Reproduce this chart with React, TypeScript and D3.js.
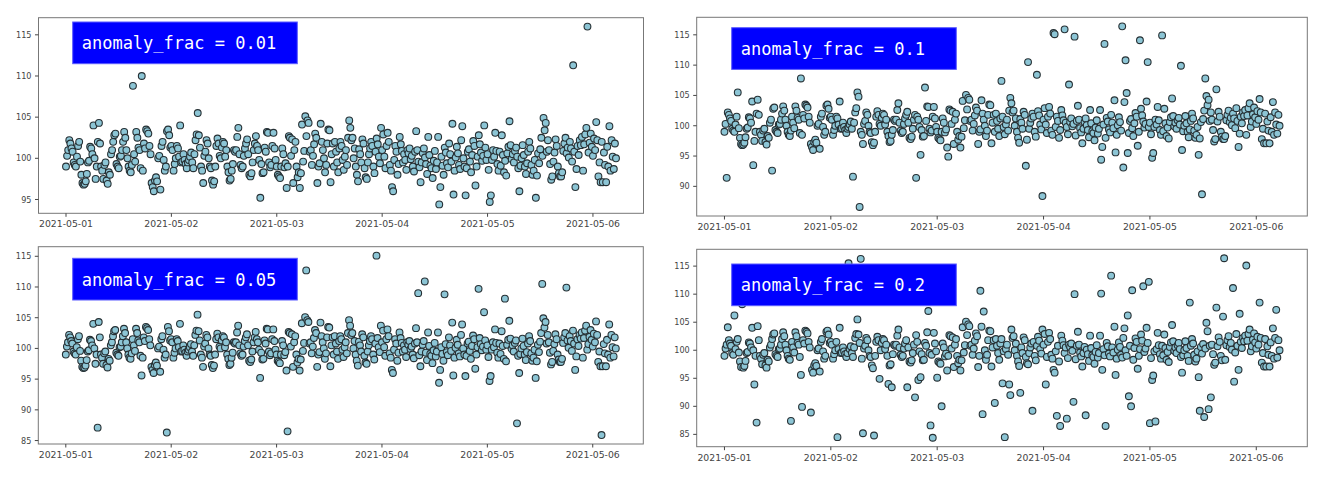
import React, { useEffect } from "react";
import * as d3 from "d3";

// base signal, 15-minute steps from 2021-05-01 00:00 (estimated from the plots)
const baseValues = [
  99.0, 100.3, 101.0, 102.2, 101.8, 101.2, 100.8, 99.5, 99.2, 99.0, 100.2, 101.5, 102.0, 99.6, 98.0, 97.0, 96.8, 96.9, 97.2, 98.1, 99.5, 99.7, 101.4, 101.2,
  100.5, 104.0, 100.0, 97.5, 99.0, 102.0, 104.3, 101.8, 99.0, 98.5, 97.5, 99.2, 99.5, 97.3, 96.9, 98.3, 98.0, 100.5, 101.0, 102.0, 102.8, 103.0, 99.3, 99.0,
  98.8, 100.2, 100.3, 101.0, 102.0, 103.2, 102.5, 101.0, 100.0, 99.0, 98.5, 98.3, 99.2, 101.5, 100.5, 99.6, 103.2, 102.5, 101.3, 101.0, 98.8, 95.6, 98.5, 101.8,
  101.2, 103.5, 103.3, 103.0, 101.5, 100.5, 97.0, 96.5, 96.0, 97.3, 97.7, 97.2, 100.0, 100.3, 96.2, 101.5, 102.0, 99.8, 98.5, 99.0, 103.3, 103.5, 102.8, 101.3,
  101.5, 101.0, 98.5, 99.3, 100.0, 101.5, 101.2, 100.2, 104.0, 99.5, 99.6, 100.5, 99.8, 99.3, 98.8, 99.5, 99.8, 100.2, 100.7, 99.5, 98.8, 100.5, 102.2, 102.9,
  105.5, 102.8, 101.3, 99.0, 98.5, 97.0, 100.3, 100.8, 102.2, 101.8, 100.0, 99.0, 98.8, 97.3, 96.8, 97.2, 99.0, 101.5, 102.4, 101.8, 100.3, 100.0, 101.3, 102.0,
  101.8, 100.2, 101.0, 99.0, 98.3, 97.3, 97.5, 98.5, 99.3, 101.0, 100.8, 101.0, 102.6, 103.7, 100.5, 99.2, 98.8, 99.0, 100.3, 101.2, 101.8, 102.3, 100.5, 98.0,
  97.8, 98.2, 99.5, 101.0, 101.8, 102.7, 101.5, 101.0, 99.8, 95.2, 99.3, 98.2, 98.3, 101.3, 100.8, 103.2, 103.1, 99.5, 98.9, 99.2, 101.5, 103.1, 101.2, 99.8,
  99.0, 98.0, 97.8, 97.6, 99.0, 101.2, 100.5, 98.9, 99.4, 96.4, 99.0, 102.7, 102.5, 100.3, 102.3, 97.0, 101.0, 102.0, 99.0, 97.7, 98.3, 96.4, 98.2, 104.1,
  99.6, 100.9, 105.1, 102.7, 104.6, 104.3, 100.8, 101.0, 99.2, 100.3, 101.7, 103.0, 102.5, 97.0, 99.0, 99.4, 104.2, 102.0, 101.0, 100.0, 98.3, 99.2, 101.8, 103.5,
  103.4, 97.1, 100.5, 101.8, 99.0, 102.0, 100.8, 99.5, 98.3, 101.2, 102.0, 101.5, 99.8, 98.6, 100.2, 101.0, 99.2, 102.5, 104.6, 103.7, 102.2, 102.5, 100.0, 101.2,
  99.0, 98.0, 97.2, 101.1, 100.5, 99.5, 102.3, 101.8, 98.8, 97.7, 97.5, 99.5, 100.5, 101.2, 102.0, 101.5, 99.0, 98.2, 100.8, 102.4, 101.7, 100.2, 99.4, 103.7,
  101.0, 102.9, 100.2, 98.8, 101.5, 103.1, 102.0, 99.2, 98.5, 96.5, 96.0, 99.8, 101.5, 100.8, 98.0, 99.3, 102.6, 101.7, 100.9, 99.5, 100.5, 99.8, 98.6, 101.0,
  100.6, 101.2, 99.9, 100.3, 99.0, 98.4, 100.8, 103.3, 101.0, 99.6, 98.9, 97.1, 99.5, 100.6, 101.2, 100.1, 99.3, 98.1, 102.6, 100.4, 99.1, 98.8, 97.6, 99.7,
  100.9, 98.7, 99.5, 102.6, 94.4, 96.5, 100.2, 99.1, 98.0, 101.3, 100.7, 99.4, 98.9, 101.8, 100.5, 99.6, 104.2, 95.6, 98.5, 100.1, 101.4, 100.6, 99.2, 98.7,
  102.2, 103.9, 100.0, 99.0, 95.5, 98.8, 100.8, 101.1, 99.6, 98.3, 100.4, 102.1, 101.5, 96.7, 99.0, 100.2, 102.8, 101.7, 100.7, 99.7, 100.3, 104.0, 101.3, 99.8,
  100.5, 98.6, 94.7, 95.5, 99.8, 101.0, 100.2, 103.1, 100.9, 99.3, 98.5, 100.8, 99.1, 102.8, 100.4, 98.3, 99.7, 97.9, 100.6, 101.4, 104.5, 101.6, 99.9, 100.5,
  99.5, 100.9, 101.3, 100.2, 98.8, 96.0, 99.1, 100.0, 101.6, 100.4, 99.0, 98.1, 99.4, 100.8, 102.0, 101.2, 99.2, 98.0, 98.5, 99.8, 95.2, 97.9, 100.6, 99.4,
  101.1, 102.5, 100.3, 104.9, 103.4, 104.3, 100.8, 102.2, 101.0, 99.3, 97.4, 97.8, 99.6, 100.7, 102.3, 101.5, 99.0, 98.2, 97.8, 97.8, 98.3, 100.9, 101.8, 102.5,
  100.6, 101.3, 100.1, 102.0, 101.2, 99.6, 102.9, 100.8, 96.5, 98.7, 101.5, 100.4, 102.2, 101.6, 102.6, 98.5, 101.7, 102.9, 103.7, 99.8, 100.7, 101.9, 103.0, 101.4,
  100.3, 102.4, 101.0, 104.4, 102.2, 97.8, 99.5, 97.1, 102.0, 97.1, 100.7, 99.2, 97.1, 101.4, 99.0, 103.9, 98.5, 102.2, 100.2, 98.7, 101.8, 100.0,
];

// anomalies: [index, value]
const anomalies001 = [[61, 108.8], [69, 110.0], [462, 111.3], [475, 116.0]];
const anomalies01 = [
  [2, 91.4], [12, 105.5], [26, 93.5], [43, 92.6], [69, 107.8], [116, 91.6], [121, 104.8], [122, 86.6],
  [173, 91.4], [181, 106.3], [202, 94.9], [250, 107.4], [272, 93.4], [274, 110.5], [282, 108.4], [287, 88.4],
  [297, 115.3], [298, 115.1], [307, 115.9], [311, 106.8], [316, 114.7], [343, 113.5], [359, 116.4], [360, 93.1],
  [362, 110.8], [363, 105.4], [375, 114.1], [382, 110.5], [395, 114.9], [412, 109.9], [431, 88.7], [434, 107.8], [444, 106.0],
];
const anomalies005 = [
  [29, 87.1], [92, 86.3], [202, 86.5], [219, 112.7], [283, 115.1], [321, 109.0], [327, 110.9], [345, 108.8],
  [376, 109.7], [381, 105.9], [400, 108.1], [411, 87.8], [434, 110.5], [456, 109.9], [488, 85.9],
];
const anomalies02 = [
  [3, 104.1], [9, 106.2], [16, 108.2], [27, 93.9], [29, 87.1], [60, 87.4], [70, 89.9], [78, 88.9], [102, 84.5],
  [112, 115.5], [123, 116.3], [125, 85.2], [135, 84.8], [140, 94.9], [148, 94.0], [151, 93.4], [165, 93.4],
  [172, 91.6], [175, 94.7], [184, 107.0], [186, 86.6], [188, 84.4], [192, 95.1], [196, 90.0], [231, 110.6],
  [233, 88.6], [234, 106.9], [244, 90.6], [251, 94.1], [253, 84.5], [257, 93.9], [258, 92.0], [267, 92.4],
  [278, 89.2], [290, 93.9], [300, 88.3], [303, 86.5], [309, 87.8], [315, 90.8], [316, 110.0], [326, 88.4],
  [340, 110.1], [344, 86.5], [349, 113.3], [364, 106.2], [365, 91.8], [367, 90.0], [368, 110.7], [378, 111.4],
  [383, 112.2], [384, 87.0], [389, 87.3], [420, 108.5], [429, 89.2], [433, 88.1], [437, 89.5], [439, 91.6],
  [444, 107.6], [450, 106.0], [451, 116.4], [459, 111.1], [460, 94.4], [465, 106.5], [471, 115.1], [483, 108.5], [498, 107.2],
];

const panelLabels = ["anomaly_frac = 0.01", "anomaly_frac = 0.1", "anomaly_frac = 0.05", "anomaly_frac = 0.2"];
const panelAnomalies = [anomalies001, anomalies01, anomalies005, anomalies02];
const yTickValues = [
  [95, 100, 105, 110, 115],
  [90, 95, 100, 105, 110, 115],
  [85, 90, 95, 100, 105, 110, 115],
  [85, 90, 95, 100, 105, 110, 115],
];

const startTime = Date.UTC(2021, 4, 1);
const stepMs = 15 * 60 * 1000;

const layout = [
  { left: 38.5, top: 17.7, width: 605, height: 195.6, boxX: 72.7, boxY: 22 },
  { left: 696.7, top: 17.3, width: 610.6, height: 198.7, boxX: 731.7, boxY: 27.7 },
  { left: 38.3, top: 246.7, width: 605, height: 197.3, boxX: 72.7, boxY: 258.3 },
  { left: 696.7, top: 249.3, width: 610.6, height: 197.4, boxX: 731.7, boxY: 264 },
];

const fmt = d3.utcFormat("%Y-%m-%d");

function Panel({ idx }: { idx: number }) {
  const L = layout[idx];
  const vals = baseValues.slice();
  panelAnomalies[idx].forEach(([i, v]) => { vals[i] = v; });
  const pts = vals.map((v, i) => ({ t: new Date(startTime + i * stepMs), v }));

  const tExt = d3.extent(pts, (d) => d.t.getTime()) as [number, number];
  const tPad = (tExt[1] - tExt[0]) * 0.05;
  const x = d3.scaleUtc()
    .domain([new Date(tExt[0] - tPad), new Date(tExt[1] + tPad)])
    .range([L.left, L.left + L.width]);
  const vExt = d3.extent(vals) as [number, number];
  const vPad = (vExt[1] - vExt[0]) * 0.05;
  const y = d3.scaleLinear()
    .domain([vExt[0] - vPad, vExt[1] + vPad])
    .range([L.top + L.height, L.top]);

  const xTicks = x.ticks(d3.utcDay.every(1)!).filter((d) => x(d) >= L.left && x(d) <= L.left + L.width);
  const bottom = L.top + L.height;

  return (
    <g>
      {pts.map((d, i) => (
        <circle key={i} cx={x(d.t)} cy={y(d.v)} r={3.4}
          fill="#8cc5d5" stroke="#263034" strokeWidth={1.1} />
      ))}
      <rect x={L.left} y={L.top} width={L.width} height={L.height} fill="none" stroke="#777" strokeWidth={1} />
      {xTicks.map((d) => (
        <g key={d.getTime()} transform={`translate(${x(d)},${bottom})`}>
          <line y2={3.5} stroke="#444" />
          <text y={14} textAnchor="middle" fontSize={9.3} fill="#444" fontFamily="DejaVu Sans, sans-serif">{fmt(d)}</text>
        </g>
      ))}
      {yTickValues[idx].map((v) => (
        <g key={v} transform={`translate(${L.left},${y(v)})`}>
          <line x2={-3.5} stroke="#444" />
          <text x={-7} dy="0.34em" textAnchor="end" fontSize={9} fill="#444" fontFamily="DejaVu Sans, sans-serif"
            style={{ fontStretch: "condensed" }}>{v}</text>
        </g>
      ))}
      <rect x={L.boxX} y={L.boxY} width={224.6} height={41.7} fill="#0000ff" stroke="#5a5aff" strokeWidth={1} />
      <text x={L.boxX + 9} y={L.boxY + 27.3} fontSize={17} fill="#ffffff" fontFamily="DejaVu Sans Mono, monospace">
        {panelLabels[idx]}
      </text>
    </g>
  );
}

export default function App() {
  useEffect(() => {
    document.body.style.margin = "0";
  }, []);
  return (
    <svg width={1325} height={494} style={{ display: "block", background: "#fff" }}>
      {[0, 1, 2, 3].map((i) => <Panel key={i} idx={i} />)}
    </svg>
  );
}
